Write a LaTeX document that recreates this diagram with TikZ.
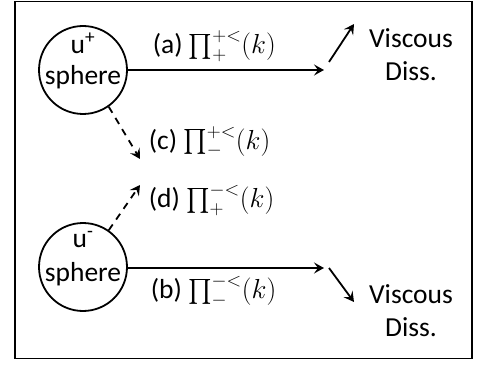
\documentclass[tikz,border=0pt]{standalone}
\usepackage{fix-cm}
\usepackage{amsmath}
\usepackage{fontspec}
\setmainfont{Carlito}
\usetikzlibrary{arrows.meta}
\newcommand\PiOp{\mathop{\textstyle\prod}\nolimits}
\begin{document}
\begin{tikzpicture}[x=1pt,y=-1pt,line width=1.8pt,
  txt/.style={font=\fontsize{27.5}{33}\selectfont, inner sep=0pt, align=center},
  sph/.style={circle, draw, minimum size=88pt, inner sep=0pt},
  arr/.style={-{Stealth[length=10pt,width=11pt,inset=4pt]}},
  darr/.style={arr, dash pattern=on 7pt off 6pt}]
\useasboundingbox (0,0) rectangle (479,366);
\node[draw, rectangle, minimum width=457pt, minimum height=357pt, inner sep=0pt] (frame) at (243.5,180) {};
% spheres
\node[sph] (up) at (83,70) {};
\node[txt] (upu) at (83,43) {u\textsuperscript{+}};
\node[txt] (ups) at (83,77) {sphere};
\node[sph] (dn) at (83,267) {};
\node[txt] (dnu) at (83,240) {u\textsuperscript{-}};
\node[txt] (dns) at (83,274) {sphere};
% endpoints
\coordinate (aend) at (324,70);
\coordinate (bend) at (324,268);
\coordinate (cend) at (140,159);
\coordinate (dend) at (140,185);
\coordinate (vas) at (329,62);
\coordinate (vae) at (354,24);
\coordinate (vbs) at (329,268);
\coordinate (vbe) at (354,302);
% arrows
\draw[arr] (up.east) -- (aend);
\draw[arr] (dn.east |- bend) -- (bend);
\draw[darr] (up.-55) -- (cend);
\draw[darr] (dn.55) -- (dend);
\draw[arr] (vas) -- (vae);
\draw[arr] (vbs) -- (vbe);
% labels
\node[txt, anchor=west] (la) at (152,46) {(a) $\PiOp_{+}^{+<}(k)$};
\node[txt, anchor=west] (lc) at (148,142) {(c) $\PiOp_{-}^{+<}(k)$};
\node[txt, anchor=west] (ld) at (148,200) {(d) $\PiOp_{+}^{-<}(k)$};
\node[txt, anchor=west] (lb) at (150,291) {(b) $\PiOp_{-}^{-<}(k)$};
\node[txt] (va) at (411,55) {Viscous\\Diss.};
\node[txt] (vb) at (411,311) {Viscous\\Diss.};
\end{tikzpicture}
\end{document}
